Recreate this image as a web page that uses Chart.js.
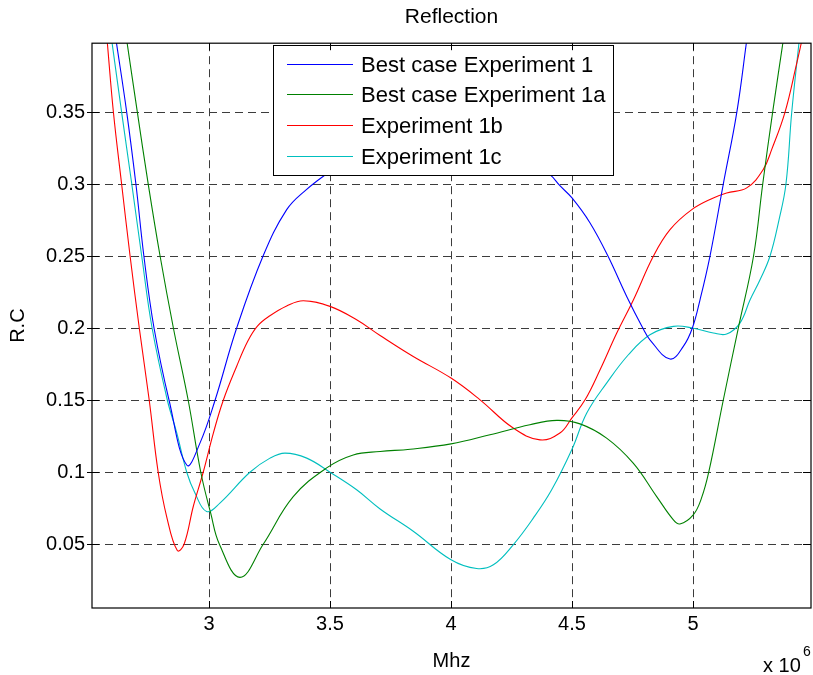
<!DOCTYPE html>
<html>
<head>
<script src="https://cdn.jsdelivr.net/npm/chart.js"></script>
<style>
  body { margin: 0; background: #fff; }
</style>
</head>
<body>
<canvas id="reflection" width="813" height="675"></canvas>
<script>
// x values are in units of 10^6 (Mhz axis), y is the reflection coefficient
var xTicks = [3, 3.5, 4, 4.5, 5];
var yTicks = [0.05, 0.1, 0.15, 0.2, 0.25, 0.3, 0.35];
var seriesNames = ["Best case Experiment 1", "Best case Experiment 1a", "Experiment 1b", "Experiment 1c"];
var seriesColors = ["#0000ff", "#008000", "#ff0000", "#00bfbf"];

var exp1X = [2.616, 2.660, 2.698, 2.731, 2.773, 2.835, 2.908, 2.963, 3.025, 3.114, 3.223, 3.321, 3.40, 3.5,
  3.6, 3.75, 3.95, 4.1, 4.25, 4.409, 4.45, 4.5, 4.574, 4.649, 4.726, 4.793, 4.822, 4.905, 4.960, 4.997,
  5.029, 5.070, 5.125, 5.181, 5.222];
var exp1Y = [0.40, 0.35, 0.30, 0.25, 0.20, 0.15, 0.105, 0.1204, 0.15, 0.20, 0.25, 0.2824, 0.296, 0.309,
  0.321, 0.333, 0.34, 0.337, 0.326, 0.3067, 0.299, 0.2905, 0.2733, 0.25, 0.2221, 0.20, 0.192, 0.1786, 0.1874, 0.20,
  0.2198, 0.25, 0.30, 0.35, 0.40];

var exp1aX = [2.660, 2.704, 2.749, 2.798, 2.853, 2.914, 2.966, 3.007, 3.043, 3.128, 3.224, 3.348, 3.486, 3.596,
  3.707, 3.831, 4.0, 4.161, 4.326, 4.437, 4.533, 4.643, 4.753, 4.850, 4.919, 4.946, 5.001, 5.035, 5.065,
  5.125, 5.187, 5.250, 5.288, 5.329, 5.373];
var exp1aY = [0.40, 0.35, 0.30, 0.25, 0.20, 0.15, 0.10, 0.0716, 0.05, 0.027, 0.05, 0.083, 0.103, 0.112,
  0.1144, 0.116, 0.1197, 0.126, 0.133, 0.136, 0.1336, 0.1237, 0.1063, 0.0831, 0.0669, 0.0641, 0.0704, 0.082, 0.10,
  0.15, 0.20, 0.25, 0.30, 0.35, 0.40];

var exp1bX = [2.579, 2.605, 2.639, 2.674, 2.712, 2.753, 2.790, 2.825, 2.869, 2.897, 2.935, 2.976, 3.018, 3.059,
  3.114, 3.16, 3.20, 3.25, 3.321, 3.390, 3.5, 3.610, 3.707, 3.844, 4.0, 4.120, 4.257, 4.368, 4.450, 4.499, 4.554,
  4.616, 4.685, 4.754, 4.836, 4.905, 4.995, 5.084, 5.139, 5.222, 5.290, 5.325, 5.380, 5.429, 5.450];
var exp1bY = [0.40, 0.35, 0.30, 0.25, 0.20, 0.15, 0.10, 0.0692, 0.0456, 0.05, 0.0762, 0.10, 0.1272, 0.15,
  0.1735, 0.191, 0.2015, 0.2085, 0.2155, 0.2191, 0.2152, 0.2059, 0.195, 0.1804, 0.1654, 0.1503, 0.1307, 0.1225, 0.1272, 0.1376, 0.1503,
  0.1712, 0.1967, 0.2198, 0.25, 0.2685, 0.2824, 0.2905, 0.294, 0.2975, 0.3102, 0.3241, 0.35, 0.3843, 0.40];

var exp1cX = [2.598, 2.639, 2.681, 2.722, 2.765, 2.828, 2.867, 2.908, 2.942, 2.990, 3.045, 3.169, 3.252, 3.314,
  3.404, 3.5, 3.610, 3.707, 3.844, 4.0, 4.106, 4.175, 4.257, 4.340, 4.416, 4.499, 4.561, 4.643, 4.733, 4.822,
  4.919, 4.997, 5.084, 5.139, 5.194, 5.236, 5.277, 5.318, 5.355, 5.384, 5.408, 5.439];
var exp1cY = [0.40, 0.35, 0.30, 0.25, 0.20, 0.15, 0.1272, 0.10, 0.0855, 0.0727, 0.0786, 0.10, 0.1098, 0.1133,
  0.1098, 0.10, 0.0878, 0.0745, 0.059, 0.0392, 0.0331, 0.0357, 0.0496, 0.0681, 0.0878, 0.1156, 0.1411, 0.1619, 0.1816, 0.1955,
  0.2013, 0.2002, 0.1967, 0.196, 0.2036, 0.2198, 0.2337, 0.25, 0.275, 0.30, 0.35, 0.40];

var FONT = '"Liberation Sans", Arial, Helvetica, sans-serif';
Chart.defaults.font.family = FONT;
Chart.defaults.color = "#000";

function pairUp(xs, ys) {
  return xs.map(function (x, i) { return { x: x, y: ys[i] }; });
}

// white legend box with black border, drawn over the lines like matlab does
var boxLegend = {
  id: "boxLegend",
  afterDatasetsDraw: function (chart) {
    var ctx = chart.ctx;
    ctx.save();
    ctx.fillStyle = "#fff";
    ctx.fillRect(273, 45, 340, 130);
    ctx.strokeStyle = "#000";
    ctx.lineWidth = 1;
    ctx.strokeRect(273.5, 45.5, 340, 130);
    ctx.font = "22px " + FONT;
    ctx.textBaseline = "middle";
    ctx.textAlign = "left";
    chart.data.datasets.forEach(function (ds, i) {
      var rowY = Math.round(63.5 + i * 30.7) + 0.5;
      ctx.strokeStyle = ds.borderColor;
      ctx.lineWidth = 1;
      ctx.beginPath();
      ctx.moveTo(287, rowY);
      ctx.lineTo(353, rowY);
      ctx.stroke();
      ctx.fillStyle = "#000";
      ctx.fillText(ds.label, 361, rowY + 1);
    });
    ctx.restore();
  },
};

// full axes frame, inner tick marks and the "x 10^6" exponent
var frame = {
  id: "frame",
  afterDraw: function (chart) {
    var ctx = chart.ctx;
    var a = chart.chartArea;
    var xs = chart.scales.x, ys = chart.scales.y;
    ctx.save();
    ctx.strokeStyle = "#000";
    ctx.lineWidth = 1.2;
    ctx.strokeRect(a.left, a.top, a.right - a.left, a.bottom - a.top);
    ctx.lineWidth = 1;
    ctx.beginPath();
    xTicks.forEach(function (v) {
      var px = Math.round(xs.getPixelForValue(v)) + 0.5;
      ctx.moveTo(px, a.bottom); ctx.lineTo(px, a.bottom - 7);
      ctx.moveTo(px, a.top); ctx.lineTo(px, a.top + 7);
    });
    yTicks.forEach(function (v) {
      var py = Math.round(ys.getPixelForValue(v)) + 0.5;
      ctx.moveTo(a.left - 5, py); ctx.lineTo(a.left + 7, py);
      ctx.moveTo(a.right, py); ctx.lineTo(a.right - 8, py);
    });
    ctx.stroke();
    ctx.fillStyle = "#000";
    ctx.textBaseline = "alphabetic";
    ctx.textAlign = "left";
    ctx.font = "20px " + FONT;
    ctx.fillText("x 10", 763, 672);
    ctx.font = "14px " + FONT;
    ctx.fillText("6", 803, 656);
    ctx.restore();
  },
};

var datasets = [
  pairUp(exp1X, exp1Y),
  pairUp(exp1aX, exp1aY),
  pairUp(exp1bX, exp1bY),
  pairUp(exp1cX, exp1cY),
].map(function (pts, i) {
  return {
    label: seriesNames[i],
    data: pts,
    borderColor: seriesColors[i],
    backgroundColor: seriesColors[i],
    borderWidth: 1.1,
    pointRadius: 0,
    tension: 0.4,
    fill: false,
  };
});

var chart = new Chart(document.getElementById("reflection").getContext("2d"), {
  type: "line",
  data: { datasets: datasets },
  plugins: [boxLegend, frame],
  options: {
    responsive: false,
    animation: false,
    layout: { padding: { left: 0, right: 2, top: 0, bottom: 0 } },
    scales: {
      x: {
        type: "linear",
        min: 2.5165,
        max: 5.4876,
        afterBuildTicks: function (s) {
          s.ticks = xTicks.map(function (v) { return { value: v }; });
        },
        afterFit: function (s) { s.height = 67; },
        ticks: {
          callback: function (v) { return String(v); },
          font: { size: 20 },
          color: "#000",
          padding: 4,
          maxRotation: 0,
          autoSkip: false,
        },
        grid: { color: "#3c3c3c", lineWidth: 1, drawTicks: false },
        border: { display: false, dash: [8, 5] },
        title: {
          display: true,
          text: "Mhz",
          color: "#000",
          font: { size: 20 },
          padding: { top: 0, bottom: 2 },
        },
      },
      y: {
        min: 0.0057,
        max: 0.398,
        afterBuildTicks: function (s) {
          s.ticks = yTicks.map(function (v) { return { value: v }; });
        },
        afterFit: function (s) { s.width = 92; },
        ticks: {
          callback: function (v) { return String(v); },
          font: { size: 20 },
          color: "#000",
          padding: 7,
          autoSkip: false,
        },
        grid: { color: "#3c3c3c", lineWidth: 1, drawTicks: false },
        border: { display: false, dash: [8, 5] },
        title: {
          display: true,
          text: "R.C",
          color: "#000",
          font: { size: 20 },
          padding: { top: 6, bottom: 0 },
        },
      },
    },
    plugins: {
      legend: { display: false },
      tooltip: { enabled: false },
      title: {
        display: true,
        text: "Reflection",
        color: "#000",
        fullSize: false,
        font: { size: 21, weight: "normal" },
        padding: { top: 5, bottom: 13 },
      },
    },
  },
});
</script>
</body>
</html>
